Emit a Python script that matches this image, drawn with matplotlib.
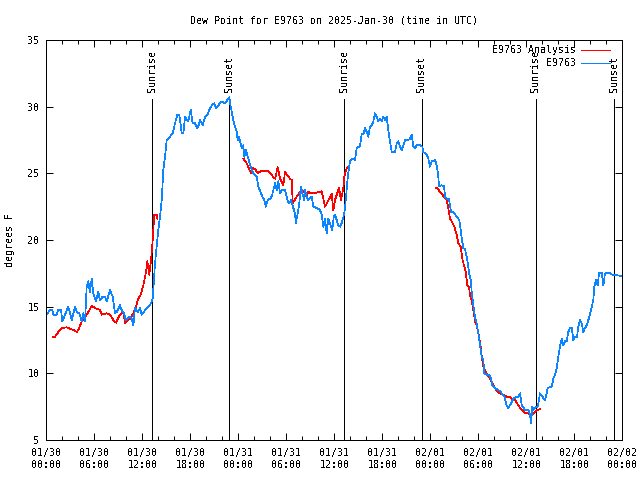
import numpy as np
import matplotlib
matplotlib.use("Agg")
import matplotlib.pyplot as plt
from matplotlib.ticker import MultipleLocator, FixedLocator

plt.rcParams['font.family'] = ['DejaVu Sans Mono']
plt.rcParams['text.antialiased'] = False
plt.rcParams['lines.antialiased'] = False

title = "Dew Point for E9763 on 2025-Jan-30 (time in UTC)"
ylabel = "degrees F"

# hours since 2025-01-30 00:00 UTC
obs_hours = [0.05, 0.46, 0.75, 0.88, 1.30, 1.50, 1.84, 2.00, 2.34, 2.75, 3.18, 3.59, 3.80, 4.13, 4.43, 4.63, 4.84,
             5.05, 5.25, 5.46, 5.68, 5.88, 6.21, 6.50, 6.71, 7.05, 7.34, 7.55, 7.96, 8.30, 8.59, 8.80, 9.21, 9.43,
             9.71, 9.93, 10.38, 10.68, 10.88, 11.09, 11.43, 11.71, 11.93, 12.55, 12.96, 13.18, 13.30, 13.59, 13.80,
             14.00, 14.21, 14.43, 14.63, 14.84, 15.05, 15.25, 15.46, 15.80, 16.09, 16.38, 16.63, 16.93, 17.13, 17.34,
             17.55, 17.75, 18.05, 18.30, 18.59, 18.88, 19.05, 19.21, 19.55, 19.84, 20.13, 20.38, 20.68, 20.96, 21.21,
             21.50, 21.93, 22.34, 22.63, 22.88, 23.05, 23.38, 23.59, 23.80, 23.93, 24.09, 24.43, 24.63, 24.75, 24.93,
             25.18, 25.34, 25.68, 26.00, 26.30, 26.50, 26.84, 27.00, 27.25, 27.43, 27.68, 27.96, 28.18, 28.59, 28.80,
             29.00, 29.21, 29.43, 29.84, 30.18, 30.38, 30.59, 30.88, 31.09, 31.18, 31.43, 31.59, 31.84, 32.00, 32.25,
             32.34, 32.55, 32.75, 33.18, 33.38, 33.80, 34.21, 34.43, 34.63, 34.84, 35.05, 35.25, 35.75, 35.93, 36.09,
             36.50, 36.71, 36.93, 37.25, 37.40, 37.65, 37.75, 37.96, 38.18, 38.59, 38.80, 39.00, 39.21, 39.43, 39.63,
             39.84, 40.05, 40.25, 40.46, 40.68, 40.88, 41.09, 41.30, 41.50, 41.71, 41.93, 42.13, 42.34, 42.55, 42.75,
             42.96, 43.18, 43.59, 43.80, 44.00, 44.21, 44.43, 44.63, 44.84, 45.25, 45.46, 45.68, 45.88, 46.09, 46.30,
             46.71, 47.00, 47.13, 47.55, 47.75, 47.96, 48.18, 48.59, 48.80, 48.96, 49.09, 49.43, 49.71, 49.84, 50.13,
             50.34, 50.59, 50.88, 51.30, 51.63, 51.80, 51.93, 52.13, 52.34, 52.55, 52.75, 52.88, 53.05, 53.18, 53.38,
             53.59, 53.80, 54.00, 54.21, 54.43, 54.63, 54.75, 55.05, 55.34, 55.59, 55.75, 56.09, 56.50, 56.84, 57.00,
             57.25, 57.55, 57.75, 58.09, 58.38, 58.71, 59.00, 59.21, 59.43, 59.84, 60.25, 60.46, 60.59, 60.75, 60.88,
             61.18, 61.43, 61.71, 62.00, 62.34, 62.55, 62.68, 63.18, 63.38, 63.59, 63.80, 64.00, 64.21, 64.43, 64.63,
             64.84, 65.05, 65.25, 65.46, 65.68, 65.88, 66.09, 66.34, 66.50, 66.71, 66.93, 67.13, 67.34, 67.55, 67.75,
             67.96, 68.18, 68.38, 68.50, 68.71, 68.93, 69.09, 69.43, 69.63, 69.84, 70.46, 70.75, 71.93]
obs_dewpt = [14.4, 14.75, 14.75, 14.4, 14.4, 14.75, 14.75, 13.9, 14.4, 15.0, 14.0, 15.0, 14.6, 14.5, 13.9, 14.5, 13.9,
             16.5, 16.9, 16.1, 17.1, 16.0, 15.4, 16.1, 15.5, 15.75, 15.75, 15.4, 16.25, 15.75, 14.5, 14.6, 15.1, 14.75,
             14.5, 14.0, 14.25, 14.1, 13.6, 14.9, 14.6, 14.9, 14.4, 14.9, 15.1, 15.4, 15.6, 18.25, 19.5,
             20.75, 21.75, 23.0, 25.25, 26.25, 27.5, 27.6, 27.75, 28.0, 28.75, 29.4, 29.4, 28.0, 28.0, 29.25,
             29.0, 28.9, 29.75, 28.75, 28.75, 28.4, 28.6, 29.0, 28.6, 29.25, 29.4, 29.75, 30.1, 30.25, 29.9,
             30.1, 30.4, 30.25, 30.5, 30.7, 30.0, 29.0, 28.5, 28.1, 27.5, 27.75, 26.9, 27.1, 26.25, 26.75,
             26.25, 25.9, 25.25, 24.9, 24.75, 24.0, 23.5, 23.25, 23.0, 22.5, 23.0, 23.1, 23.25, 24.25, 23.75,
             24.4, 23.5, 23.75, 23.75, 22.9, 22.75, 23.0, 22.4, 22.0, 21.25, 22.0, 22.6, 24.0, 23.5, 23.0,
             23.75, 23.25, 23.0, 23.25, 22.5, 22.4, 22.25, 21.9, 21.0, 21.6, 20.5, 21.6, 20.75, 21.75, 21.9,
             21.1, 21.0, 21.25, 22.0, 22.8, 24.5, 25.0, 25.9, 26.1, 26.0, 26.9, 27.0, 27.0, 28.0, 27.9,
             28.4, 28.1, 27.75, 28.5, 28.6, 28.9, 29.5, 29.25, 28.9, 29.1, 28.9, 29.25, 29.0, 29.25, 28.25,
             27.4, 26.6, 26.6, 27.25, 27.4, 27.0, 26.75, 27.1, 27.5, 27.5, 27.6, 27.9, 27.0, 26.9, 27.1,
             27.1, 27.0, 26.6, 26.4, 26.1, 25.5, 25.9, 26.0, 25.6, 25.0, 24.05, 24.1, 24.05, 23.25, 23.05,
             23.05, 22.1, 22.1, 21.75, 21.5, 20.75, 20.1, 19.4, 19.3, 18.75, 18.0, 17.4, 17.0, 16.1, 15.1,
             14.25, 13.75, 13.0, 12.1, 11.25, 11.0, 10.0, 9.9, 9.9, 9.6, 9.1, 8.9, 8.75, 8.6, 8.4,
             8.25, 7.6, 7.4, 7.75, 8.1, 8.2, 8.25, 8.5, 7.6, 7.25, 7.25, 6.9, 6.25, 7.5, 7.25,
             7.5, 7.5, 8.5, 8.25, 8.0, 8.5, 8.9, 9.0, 9.6, 9.9, 10.4, 11.25, 12.0, 12.6, 12.1,
             12.4, 12.4, 13.1, 13.4, 13.4, 12.5, 12.75, 12.75, 13.5, 14.0, 13.75, 13.1, 13.4, 13.6, 14.0,
             14.4, 15.0, 15.5, 16.5, 17.0, 16.6, 17.55, 17.55, 16.6, 17.5, 17.5, 17.4, 17.3]

nan = float('nan')
ana_hours = [0.80, 1.09, 1.50, 1.93, 2.55, 3.38, 3.80, 4.00, 4.43, 5.05, 5.68, 6.09, 6.71, 6.93, 7.55, 7.96, 8.38,
             8.71, 9.21, 9.63, 9.84, 10.13, 10.46, 10.88, 11.21, 11.50, 11.80, 12.13, 12.46, 12.63, 12.88, 13.09,
             13.30, 13.50, 13.80, 13.88, 19.0,
             24.63, 25.05, 25.59, 25.88, 26.18, 26.46, 26.84, 27.75, 27.96, 28.59, 28.93, 29.21, 29.63, 29.84, 30.46,
             30.68, 30.80, 31.30, 31.71, 31.93, 32.34, 32.55, 32.75, 33.18, 33.59, 34.00, 34.43, 34.84, 35.68, 35.88,
             36.09, 36.59, 36.84, 37.13, 37.25, 37.55, 37.75, 43.0,
             48.68, 48.90, 49.21, 49.43, 49.71, 50.05, 50.25, 50.46, 50.68, 51.00, 51.30, 51.50, 51.80, 52.00, 52.25,
             52.43, 52.63, 52.84, 52.96, 53.18, 53.38, 53.59, 53.84, 54.09, 54.30, 54.43, 54.63, 54.84, 55.05, 55.46,
             55.75, 56.09, 56.43, 56.71, 57.13, 57.55, 57.88, 58.18, 58.59, 59.00, 59.43, 59.84, 60.25, 60.59, 60.88,
             61.30, 61.71]
ana_dewpt = [12.75, 12.75, 13.1, 13.4, 13.45, 13.25, 13.1, 13.25, 13.9, 14.4, 15.05, 14.9, 14.75, 14.4, 14.5, 14.4, 14.0,
             13.8, 14.4, 14.6, 13.75, 14.0, 14.1, 14.5, 15.0, 15.6, 15.9, 16.6, 17.6, 18.4, 17.4, 18.5,
             20.0, 21.9, 21.9, 21.6, nan,
             26.1, 25.75, 25.0, 25.4, 25.25, 25.0, 25.2, 25.2, 25.0, 24.6, 25.45, 24.6, 24.1, 25.1, 24.6,
             24.5, 22.75, 23.25, 23.6, 23.75, 23.5, 23.25, 23.6, 23.5, 23.5, 23.6, 23.65, 22.5, 23.45, 22.25,
             23.0, 23.9, 23.0, 23.9, 24.75, 25.4, 25.5, nan,
             23.9, 23.9, 23.6, 23.45, 23.25, 23.0, 22.4, 21.6, 21.4, 21.0, 20.4, 19.75, 19.5, 18.6, 18.0,
             17.6, 16.6, 16.45, 15.9, 15.4, 14.75, 13.9, 13.5, 12.75, 12.0, 11.25, 10.5, 10.25, 10.0, 9.6,
             9.25, 8.9, 8.6, 8.5, 8.4, 8.25, 8.25, 8.1, 8.0, 7.6, 7.25, 7.0, 7.0, 6.75, 7.0,
             7.25, 7.3]

sunrise_hours = [13.2, 37.25, 61.15]
sunset_hours = [22.85, 46.9, 71.0]
marker_top = 30.6

xtick_hours = [0, 6, 12, 18, 24, 30, 36, 42, 48, 54, 60, 66, 72]
xtick_labels = ["01/30\n00:00", "01/30\n06:00", "01/30\n12:00", "01/30\n18:00",
                "01/31\n00:00", "01/31\n06:00", "01/31\n12:00", "01/31\n18:00",
                "02/01\n00:00", "02/01\n06:00", "02/01\n12:00", "02/01\n18:00", "02/02\n00:00"]
ytick_values = [5, 10, 15, 20, 25, 30, 35]

red = '#ff0000'
blue = '#0a84ff'
fs = 7.2
lw = 0.72
dlw = 0.5

fig = plt.figure(figsize=(6.4, 4.8), dpi=100)
ax = fig.add_axes([46.3/640, 40/480, 576/640, 400/480])

for h in sunrise_hours:
    ax.plot([h, h], [5, marker_top], color='black', lw=lw)
    ax.text(h, 31.1, "Sunrise", rotation=90, ha='center', va='bottom', fontsize=fs)
for h in sunset_hours:
    ax.plot([h, h], [5, marker_top], color='black', lw=lw)
    ax.text(h, 31.1, "Sunset", rotation=90, ha='center', va='bottom', fontsize=fs)

ax.plot(ana_hours, ana_dewpt, color=red, lw=dlw)
ax.plot(obs_hours, obs_dewpt, color=blue, lw=dlw)

ax.set_xlim(0, 72)
ax.set_ylim(5, 35)
ax.xaxis.set_major_locator(FixedLocator(xtick_hours))
ax.xaxis.set_minor_locator(MultipleLocator(2))
ax.set_xticklabels(xtick_labels)
ax.set_yticks(ytick_values)
ax.tick_params(which='both', direction='in', top=True, right=True, labelsize=fs, width=lw)
ax.tick_params(which='major', length=5)
ax.tick_params(which='minor', length=3)
ax.tick_params(axis='x', pad=6)
ax.tick_params(axis='y', pad=5)
for s in ax.spines.values():
    s.set_linewidth(lw)

# legend (top right)
ax.text(0.92, 0.975, "E9763 Analysis", transform=ax.transAxes, ha='right', va='center', fontsize=fs)
ax.plot([0.928, 0.979], [0.975, 0.975], transform=ax.transAxes, color=red, lw=dlw)
ax.text(0.92, 0.9425, "E9763", transform=ax.transAxes, ha='right', va='center', fontsize=fs)
ax.plot([0.928, 0.979], [0.9425, 0.9425], transform=ax.transAxes, color=blue, lw=dlw)

ax.set_title(title, fontsize=fs, pad=12)
fig.text(10/640, 0.5, ylabel, rotation=90, ha='center', va='center', fontsize=fs)

fig.savefig("out.png", dpi=100)
